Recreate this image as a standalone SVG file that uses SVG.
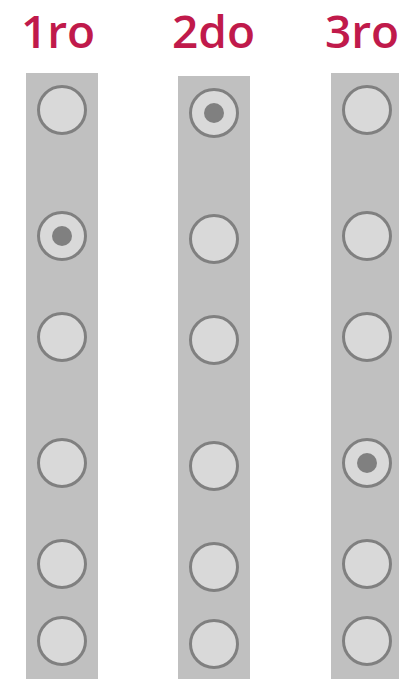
<svg xmlns="http://www.w3.org/2000/svg" width="399" height="679" viewBox="0 0 399 679">
<style>
.lbl{font-family:"Open Sans","Liberation Sans",sans-serif;font-weight:600;font-size:46px;fill:#c01a4b;text-anchor:middle}
.bar{fill:#c0c0c0}
.ring{fill:#d9d9d9;stroke:#808080;stroke-width:3}
.dot{fill:#808080}
</style>
<rect width="399" height="679" fill="#ffffff"/>
<g id="col1">
<text class="lbl" x="58" y="48">1ro</text>
<rect class="bar" x="26" y="73" width="72" height="607"/>
<g id="c1-1"><circle class="ring" cx="62" cy="110" r="23.5"/></g>
<g id="c1-2"><circle class="ring" cx="62" cy="236" r="23.5"/><circle class="dot" cx="62" cy="236" r="10"/></g>
<g id="c1-3"><circle class="ring" cx="62" cy="337" r="23.5"/></g>
<g id="c1-4"><circle class="ring" cx="62" cy="463" r="23.5"/></g>
<g id="c1-5"><circle class="ring" cx="62" cy="564" r="23.5"/></g>
<g id="c1-6"><circle class="ring" cx="62" cy="641" r="23.5"/></g>
</g>
<g id="col2">
<text class="lbl" x="213.5" y="48">2do</text>
<rect class="bar" x="178" y="76" width="72" height="604"/>
<g id="c2-1"><circle class="ring" cx="214" cy="113" r="23.5"/><circle class="dot" cx="214" cy="113" r="10"/></g>
<g id="c2-2"><circle class="ring" cx="214" cy="239" r="23.5"/></g>
<g id="c2-3"><circle class="ring" cx="214" cy="340" r="23.5"/></g>
<g id="c2-4"><circle class="ring" cx="214" cy="466" r="23.5"/></g>
<g id="c2-5"><circle class="ring" cx="214" cy="567" r="23.5"/></g>
<g id="c2-6"><circle class="ring" cx="214" cy="644" r="23.5"/></g>
</g>
<g id="col3">
<text class="lbl" x="362" y="48">3ro</text>
<rect class="bar" x="331" y="73" width="72" height="607"/>
<g id="c3-1"><circle class="ring" cx="367" cy="110" r="23.5"/></g>
<g id="c3-2"><circle class="ring" cx="367" cy="236" r="23.5"/></g>
<g id="c3-3"><circle class="ring" cx="367" cy="337" r="23.5"/></g>
<g id="c3-4"><circle class="ring" cx="367" cy="463" r="23.5"/><circle class="dot" cx="367" cy="463" r="10"/></g>
<g id="c3-5"><circle class="ring" cx="367" cy="564" r="23.5"/></g>
<g id="c3-6"><circle class="ring" cx="367" cy="641" r="23.5"/></g>
</g>
<g id="connectors"></g>
</svg>
